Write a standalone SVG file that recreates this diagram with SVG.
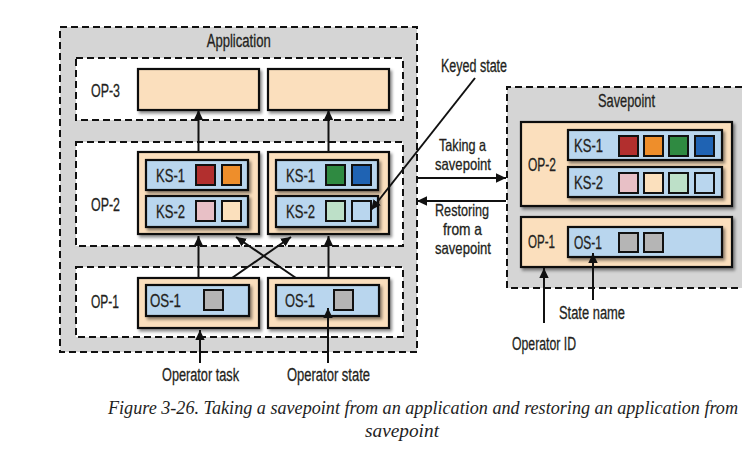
<svg xmlns="http://www.w3.org/2000/svg" width="755" height="461" viewBox="0 0 755 461">
<defs>
<style>
.lbl{font-family:"Liberation Sans Narrow","Liberation Sans",Arial,sans-serif;font-size:18px;fill:#231f20;stroke:#231f20;stroke-width:0.3}
.ml{font-size:16.5px}
.cap{font-family:"Liberation Serif","Times New Roman",serif;font-style:italic;font-size:18px;fill:#1e1e1e}
.cap2{font-size:19px}
.dash{fill:#fff;stroke:#111;stroke-width:2;stroke-dasharray:7 4}
.bg{fill:#d5d5d5;stroke:#111;stroke-width:2;stroke-dasharray:7 4}
.task{fill:#fbdfbd;stroke:#111;stroke-width:2.2;filter:url(#sh)}
.st{fill:#b9d6ee;stroke:#111;stroke-width:2.2;filter:url(#sh)}
.sq{stroke:#111;stroke-width:2}
.c{stroke:#111;stroke-width:2;fill:none;marker-end:url(#ah)}
</style>
<filter id="sh" x="-10%" y="-10%" width="130%" height="140%">
<feDropShadow dx="2" dy="2.5" stdDeviation="1.6" flood-color="#000" flood-opacity="0.45"/>
</filter>
<marker id="ah" markerUnits="userSpaceOnUse" markerWidth="10" markerHeight="10" refX="10" refY="5" orient="auto">
<path d="M0,0.3 L10,5 L0,9.7 z" fill="#111"/>
</marker>
</defs>
<rect width="755" height="461" fill="#fff"/>

<g id="application">
<rect class="bg" x="60" y="27" width="357" height="325"/>
<text class="lbl" x="206.7" y="47" textLength="64" lengthAdjust="spacingAndGlyphs">Application</text>
</g>

<g id="op3">
<rect class="dash" x="76" y="58" width="327" height="62"/>
<text class="lbl" x="91" y="97" textLength="29" lengthAdjust="spacingAndGlyphs">OP-3</text>
<rect class="task" x="138" y="69" width="121" height="41"/>
<rect class="task" x="268" y="69" width="121" height="41"/>
</g>

<g id="op2">
<rect class="dash" x="76" y="142" width="327" height="104"/>
<text class="lbl" x="91" y="211" textLength="29" lengthAdjust="spacingAndGlyphs">OP-2</text>
</g>
<g id="op2-task1">
<rect class="task" x="138" y="152" width="121" height="82"/>
<rect class="st" x="146" y="160" width="102" height="30"/>
<text class="lbl" x="156" y="181.5" textLength="29" lengthAdjust="spacingAndGlyphs">KS-1</text>
<rect class="sq" x="196" y="165" width="19" height="20" fill="#b22f2e"/>
<rect class="sq" x="222" y="165" width="19" height="20" fill="#ee8e2b"/>
<rect class="st" x="146" y="196" width="102" height="31"/>
<text class="lbl" x="156" y="218" textLength="29" lengthAdjust="spacingAndGlyphs">KS-2</text>
<rect class="sq" x="196" y="201" width="19" height="20" fill="#e8c0c6"/>
<rect class="sq" x="222" y="201" width="19" height="20" fill="#fbe0bd"/>
</g>
<g id="op2-task2">
<rect class="task" x="268" y="152" width="121" height="82"/>
<rect class="st" x="276" y="160" width="102" height="30"/>
<text class="lbl" x="286" y="181.5" textLength="29" lengthAdjust="spacingAndGlyphs">KS-1</text>
<rect class="sq" x="326" y="165" width="19" height="20" fill="#2f8a41"/>
<rect class="sq" x="352" y="165" width="19" height="20" fill="#1f63b3"/>
<rect class="st" x="276" y="196" width="102" height="31"/>
<text class="lbl" x="286" y="218" textLength="29" lengthAdjust="spacingAndGlyphs">KS-2</text>
<rect class="sq" x="326" y="201" width="19" height="20" fill="#bde0c8"/>
<rect class="sq" x="352" y="201" width="19" height="20" fill="#b9d6ee"/>
</g>

<g id="op1">
<rect class="dash" x="76" y="267" width="327" height="70"/>
<text class="lbl" x="91" y="308" textLength="28" lengthAdjust="spacingAndGlyphs">OP-1</text>
</g>
<g id="op1-task1">
<rect class="task" x="138" y="278" width="121" height="50"/>
<rect class="st" x="146" y="285" width="103" height="31"/>
<text class="lbl" x="150" y="307" textLength="31" lengthAdjust="spacingAndGlyphs">OS-1</text>
<rect class="sq" x="204" y="290" width="19" height="20" fill="#b5b5b5"/>
</g>
<g id="op1-task2">
<rect class="task" x="268" y="278" width="121" height="50"/>
<rect class="st" x="276" y="285" width="103" height="31"/>
<text class="lbl" x="285" y="307" textLength="30" lengthAdjust="spacingAndGlyphs">OS-1</text>
<rect class="sq" x="334" y="290" width="19" height="20" fill="#b5b5b5"/>
</g>

<g id="savepoint">
<rect x="507" y="87" width="235" height="201" fill="#d5d5d5"/>
<path d="M742,87 H507 V288 H742" fill="none" stroke="#111" stroke-width="2" stroke-dasharray="7 4"/>
<text class="lbl" x="598" y="107" textLength="57" lengthAdjust="spacingAndGlyphs">Savepoint</text>
</g>
<g id="sp-op2">
<rect class="task" x="521" y="122" width="211" height="84"/>
<text class="lbl" x="528" y="171" textLength="28" lengthAdjust="spacingAndGlyphs">OP-2</text>
<rect class="st" x="568" y="130" width="154" height="30"/>
<text class="lbl" x="574" y="151.5" textLength="29" lengthAdjust="spacingAndGlyphs">KS-1</text>
<rect class="sq" x="619" y="136" width="19" height="20" fill="#b22f2e"/>
<rect class="sq" x="644" y="136" width="19" height="20" fill="#ee8e2b"/>
<rect class="sq" x="669" y="136" width="19" height="20" fill="#2f8a41"/>
<rect class="sq" x="695" y="136" width="19" height="20" fill="#1f63b3"/>
<rect class="st" x="568" y="167" width="154" height="30"/>
<text class="lbl" x="574" y="188.5" textLength="29" lengthAdjust="spacingAndGlyphs">KS-2</text>
<rect class="sq" x="619" y="173" width="19" height="20" fill="#e8c0c6"/>
<rect class="sq" x="644" y="173" width="19" height="20" fill="#fbe0bd"/>
<rect class="sq" x="669" y="173" width="19" height="20" fill="#bde0c8"/>
<rect class="sq" x="695" y="173" width="19" height="20" fill="#b9d6ee"/>
</g>
<g id="sp-op1">
<rect class="task" x="521" y="217" width="211" height="50"/>
<text class="lbl" x="528" y="248" textLength="27" lengthAdjust="spacingAndGlyphs">OP-1</text>
<rect class="st" x="568" y="227" width="154" height="30"/>
<text class="lbl" x="574" y="248.5" textLength="28" lengthAdjust="spacingAndGlyphs">OS-1</text>
<rect class="sq" x="619" y="233" width="19" height="19" fill="#b5b5b5"/>
<rect class="sq" x="644" y="233" width="19" height="19" fill="#b5b5b5"/>
</g>

<g id="labels">
<text class="lbl" x="441" y="72" textLength="66" lengthAdjust="spacingAndGlyphs">Keyed state</text>
<text class="lbl ml" x="439" y="151" textLength="47" lengthAdjust="spacingAndGlyphs">Taking a</text>
<text class="lbl ml" x="435" y="170" textLength="56" lengthAdjust="spacingAndGlyphs">savepoint</text>
<text class="lbl ml" x="435" y="216" textLength="54" lengthAdjust="spacingAndGlyphs">Restoring</text>
<text class="lbl ml" x="443" y="235" textLength="39" lengthAdjust="spacingAndGlyphs">from a</text>
<text class="lbl ml" x="435" y="254" textLength="56" lengthAdjust="spacingAndGlyphs">savepoint</text>
<text class="lbl" x="162" y="381" textLength="77" lengthAdjust="spacingAndGlyphs">Operator task</text>
<text class="lbl" x="287" y="381" textLength="83" lengthAdjust="spacingAndGlyphs">Operator state</text>
<text class="lbl" x="559" y="319" textLength="66" lengthAdjust="spacingAndGlyphs">State name</text>
<text class="lbl" x="512" y="350" textLength="64" lengthAdjust="spacingAndGlyphs">Operator ID</text>
</g>

<g id="connectors">
<line class="c" x1="198.5" y1="152" x2="198.5" y2="110"/>
<line class="c" x1="328.5" y1="152" x2="328.5" y2="110"/>
<line class="c" x1="198.5" y1="278" x2="198.5" y2="236"/>
<line class="c" x1="328.5" y1="278" x2="328.5" y2="236"/>
<line class="c" x1="232" y1="278" x2="291" y2="237"/>
<line class="c" x1="296" y1="278" x2="236" y2="237"/>
<line class="c" x1="200" y1="363" x2="200" y2="330"/>
<line class="c" x1="328" y1="363" x2="328" y2="308"/>
<line class="c" x1="475" y1="78" x2="371" y2="210"/>
<line class="c" x1="417" y1="178" x2="506" y2="178"/>
<line class="c" x1="506" y1="201" x2="417" y2="201"/>
<line class="c" x1="544" y1="323" x2="544" y2="268"/>
<line class="c" x1="593" y1="300" x2="593" y2="253"/>
</g>

<g id="caption">
<text class="cap" x="108" y="414" textLength="630" lengthAdjust="spacingAndGlyphs">Figure 3-26. Taking a savepoint from an application and restoring an application from</text>
<text class="cap cap2" x="365" y="437" textLength="74" lengthAdjust="spacingAndGlyphs">savepoint</text>
</g>
</svg>
